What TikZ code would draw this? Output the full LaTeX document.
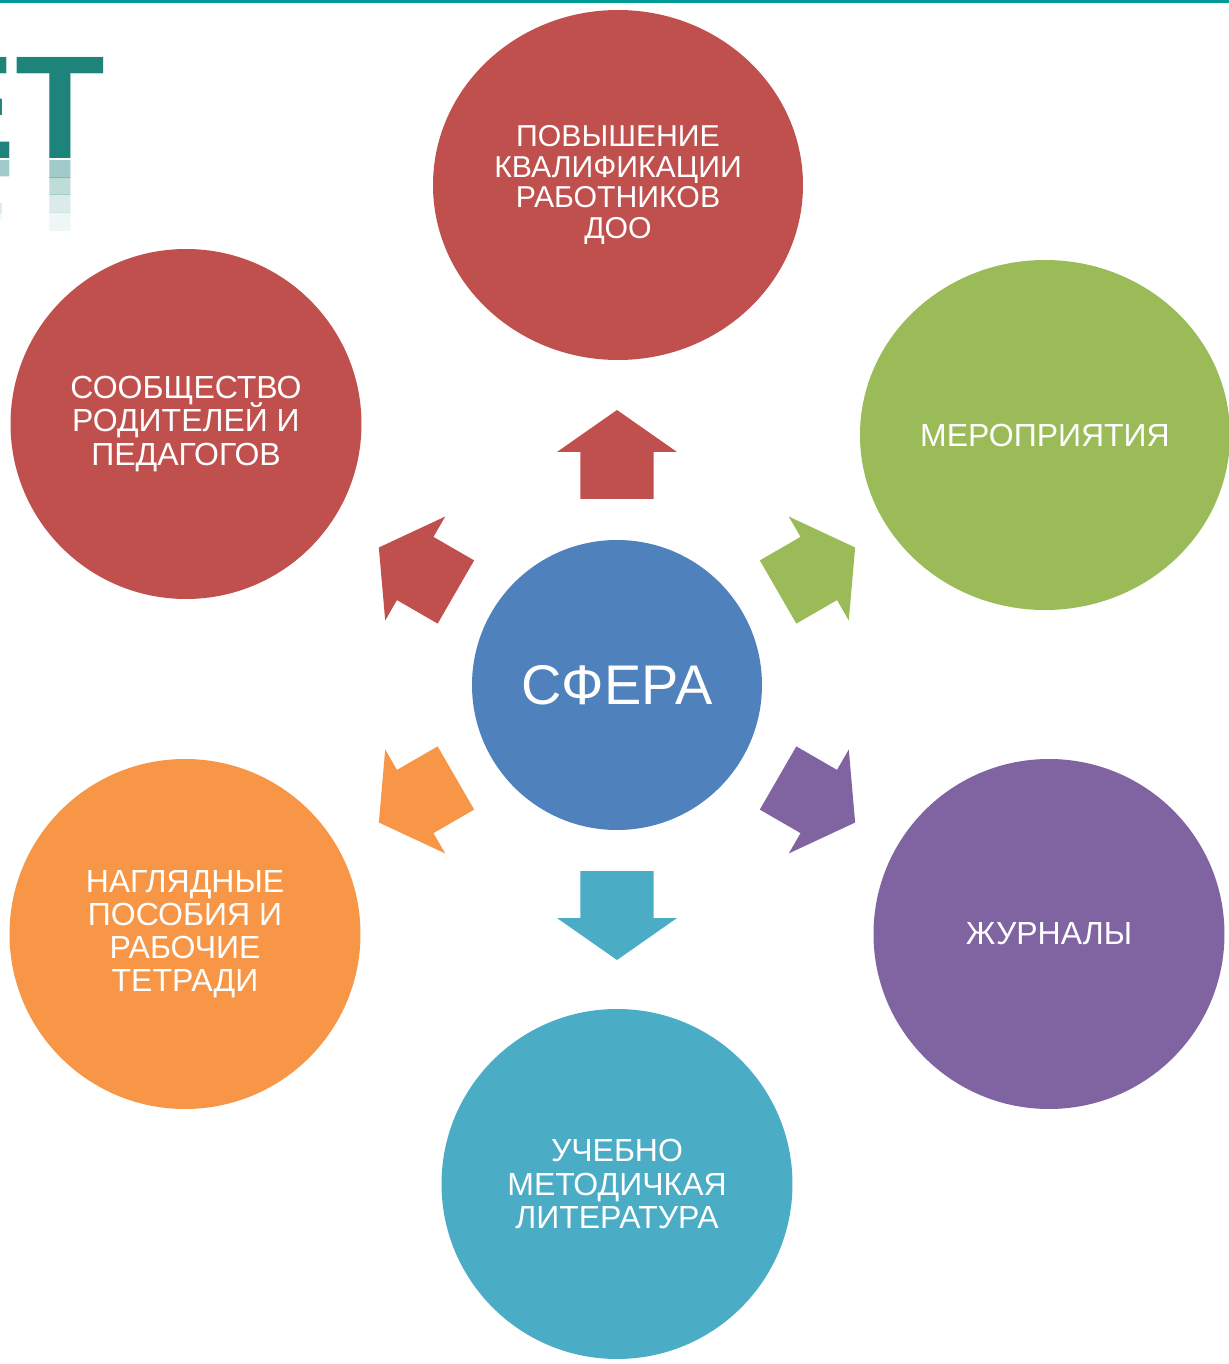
\documentclass[tikz,border=0pt]{standalone}
\usepackage{fontspec}
\setmainfont{Liberation Sans}
\usepackage{tikz}
\usetikzlibrary{
  positioning,
  calc,
  shapes.geometric
}
\definecolor{sferablue}{HTML}{4F81BD}
\definecolor{bubblered}{HTML}{C0504D}
\definecolor{bubblegreen}{HTML}{9BBB59}
\definecolor{bubblepurple}{HTML}{8064A2}
\definecolor{bubbleaqua}{HTML}{4BACC6}
\definecolor{bubbleorange}{HTML}{F79646}
\definecolor{titleteal}{HTML}{1E837B}
\definecolor{rulecolor}{HTML}{009A95}
\newcommand{\bubblefont}[2]{\fontsize{#1}{#2}\selectfont\lineskiplimit=-6pt\relax}

\begin{document}
\begin{tikzpicture}[
  bubble/.style={
    ellipse, fill=#1, text=white, inner sep=0pt, align=center,
    minimum width=3.51cm, minimum height=3.5cm,
    font=\bubblefont{9.1}{9.4}
  },
  core/.style={
    circle, fill=sferablue, text=white, inner sep=0pt,
    minimum size=2.9cm, font=\fontsize{15.9}{16}\selectfont
  },
  heading/.style={
    font=\fontsize{41.8}{42}\selectfont\bfseries, text=titleteal,
    inner sep=0pt, anchor=base east
  },
  sferaarrow/.pic={
    \fill[#1] (1.86,-0.365) -- (2.33,-0.365) -- (2.33,-0.6) -- (2.75,0)
      -- (2.33,0.6) -- (2.33,0.365) -- (1.86,0.365) -- cycle;
  }
]
  \useasboundingbox (0,0) rectangle (12.29,13.64);

  % ── Top rule ──
  \fill[rulecolor] (0,13.61) rectangle (12.29,13.64);

  % ── Cut-off slide title with its reflection ──
  \begin{scope}
    \clip (0,12.04) rectangle (3,13.64);
    \node[heading] (title) at (1.06,12.06) {ЕТ};
  \end{scope}
  \foreach \k/\op in {0/0.42,1/0.28,2/0.16,3/0.07} {
    \begin{scope}
      \clip (0,{12.04-0.175*\k}) rectangle (3,{12.04-0.175*(\k+1)});
      \node[heading, yscale=-1, opacity=\op] (mirror\k) at (1.06,12.04) {ЕТ};
    \end{scope}
  }

  % ── Centre ──
  \node[core] (sfera) at (6.17,6.79) {СФЕРА};

  % ── Surrounding bubbles ──
  \node[bubble=bubblered, minimum width=3.70cm, font=\bubblefont{8.6}{8.75}] (kval)
    at ($(sfera)+(0.01,5.0)$)
    {ПОВЫШЕНИЕ\\КВАЛИФИКАЦИИ\\РАБОТНИКОВ\\ДОО};
  \node[bubble=bubblegreen, minimum width=3.70cm] (events)
    at ($(sfera)+(4.28,2.5)$) {МЕРОПРИЯТИЯ};
  \node[bubble=bubblepurple] (journals)
    at ($(sfera)+(4.32,-2.49)$) {ЖУРНАЛЫ};
  \node[bubble=bubbleaqua] (literature)
    at ($(sfera)+(0,-4.99)$) {УЧЕБНО\\МЕТОДИЧКАЯ\\ЛИТЕРАТУРА};
  \node[bubble=bubbleorange] (aids)
    at ($(sfera)+(-4.32,-2.49)$) {НАГЛЯДНЫЕ\\ПОСОБИЯ И\\РАБОЧИЕ\\ТЕТРАДИ};
  \node[bubble=bubblered] (community)
    at ($(sfera)+(-4.31,2.61)$) {СООБЩЕСТВО\\РОДИТЕЛЕЙ И\\ПЕДАГОГОВ};

  % ── Block arrows out of the centre ──
  \pic[rotate=90]  at (sfera.center) {sferaarrow=bubblered};
  \pic[rotate=30]  at (sfera.center) {sferaarrow=bubblegreen};
  \pic[rotate=-30] at (sfera.center) {sferaarrow=bubblepurple};
  \pic[rotate=-90] at (sfera.center) {sferaarrow=bubbleaqua};
  \pic[rotate=210] at (sfera.center) {sferaarrow=bubbleorange};
  \pic[rotate=150] at (sfera.center) {sferaarrow=bubblered};

\end{tikzpicture}
\end{document}
